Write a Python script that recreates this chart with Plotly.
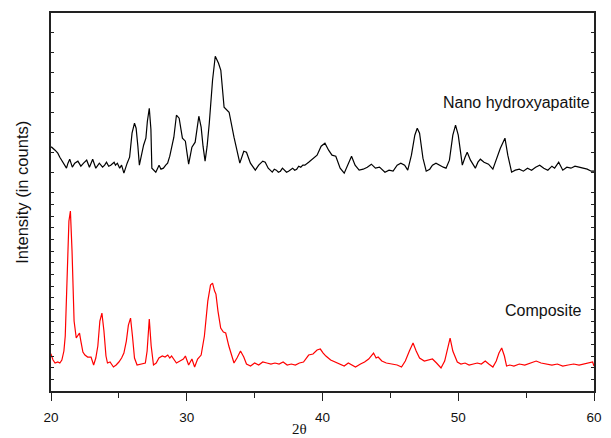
import plotly.graph_objects as go

# ---- data (2theta in degrees, intensity in arbitrary counts) ----
hap_2theta = [19.95, 20.05, 20.3, 20.5, 20.65, 20.78, 20.95, 21.14, 21.25, 21.38, 21.57, 21.75, 21.98,
              22.2, 22.4, 22.63, 22.83, 22.95, 23.07, 23.3, 23.45, 23.56, 23.8, 23.95, 24.09, 24.25,
              24.4, 24.65, 24.75, 24.89, 25.06, 25.2, 25.37, 25.5, 25.61, 25.79, 25.97, 26.15, 26.27,
              26.4, 26.51, 26.82, 26.99, 27.1, 27.24, 27.36, 27.43, 27.72, 27.96, 28.1, 28.28, 28.45,
              28.59, 28.75, 28.88, 29.05, 29.24, 29.44, 29.68, 29.9, 30.0, 30.14, 30.38, 30.62, 30.89,
              31.06, 31.2, 31.35, 31.5, 31.66, 31.9, 32.1, 32.34, 32.51, 32.75, 33.12, 33.48, 33.91,
              34.2, 34.4, 34.69, 35.05, 35.3, 35.6, 35.78, 36.0,
              36.15, 36.3, 36.45, 36.6, 36.75, 36.9, 37.05, 37.2, 37.35, 37.5, 37.65, 37.8, 37.95,
              38.1, 38.25, 38.4, 38.55, 38.7, 38.98, 39.3, 39.6, 39.9, 40.18, 40.45, 40.7, 40.98,
              41.3, 41.6, 41.9, 42.14, 42.4, 42.7, 43.0, 43.3, 43.6, 43.9, 44.2, 44.4, 44.6, 44.9,
              45.2, 45.5, 45.77, 46.05, 46.28, 46.55, 46.8, 46.98, 47.15, 47.4, 47.64, 47.9, 48.1,
              48.36, 48.7, 48.9, 49.1, 49.35, 49.6, 49.8, 50.0, 50.3, 50.5, 50.66, 50.9, 51.26, 51.45,
              51.63, 51.9, 52.23, 52.55, 52.8, 53.1, 53.44, 53.65, 53.93, 54.2, 54.5, 54.8, 55.1,
              55.4, 55.7, 56.0, 56.3, 56.6, 56.9, 57.1, 57.4, 57.7, 58.0, 58.3, 58.6, 58.9, 59.2,
              59.5, 59.8, 60.0]
hap_counts = [244, 244, 241, 238, 234, 231, 228, 223, 228, 232, 224, 228, 230,
              225, 228, 231, 224, 228, 232, 223, 226, 228, 224, 226, 229, 225,
              226, 229, 226, 228, 223, 226, 218, 224, 228, 234, 258, 268, 263,
              245, 226, 246, 253, 270, 283, 262, 223, 219, 226, 222, 223, 226,
              228, 235, 244, 254, 276, 273, 253, 250, 240, 227, 244, 249, 275,
              264, 245, 230, 245, 268, 311, 335, 328, 321, 284, 279, 254, 228,
              240, 239, 228, 221, 226, 230, 229, 223,
              221, 219, 222, 221, 219, 220, 223, 221, 219, 220, 222, 223, 221,
              222, 225, 224, 226, 226, 229, 233, 236, 245, 248, 241, 236, 235,
              223, 218, 228, 235, 226, 221, 222, 224, 227, 223, 224, 221, 219, 221,
              220, 226, 228, 226, 221, 236, 256, 263, 258, 233, 220, 222, 226,
              228, 225, 224, 223, 231, 256, 266, 256, 226, 234, 239, 231, 223, 229,
              232, 229, 227, 222, 231, 243, 253, 236, 219, 221, 222, 220, 223,
              221, 224, 226, 223, 221, 225, 223, 229, 221, 224, 223, 225, 224, 223,
              222, 220, 220]

comp_2theta = [19.95, 20.0, 20.15, 20.3, 20.5, 20.65, 20.8, 20.95, 21.05, 21.2, 21.32, 21.43, 21.55,
               21.7, 21.86, 22.0, 22.1, 22.2, 22.35, 22.5, 22.7, 22.95, 23.14, 23.3, 23.45, 23.6,
               23.75, 23.9, 24.05, 24.16, 24.35, 24.6, 24.8, 25.0, 25.2, 25.37, 25.55, 25.7, 25.86,
               26.0, 26.15, 26.34, 26.6, 26.85, 26.95, 27.08, 27.24, 27.38, 27.55, 27.75, 27.95,
               28.2, 28.4, 28.6, 28.75, 28.88, 29.05, 29.24, 29.5, 29.75, 29.9, 30.02, 30.14, 30.38,
               30.58, 30.8, 31.06, 31.3, 31.55, 31.75, 31.9, 32.05, 32.15, 32.3, 32.5, 32.7, 32.87,
               33.1, 33.3, 33.48, 33.7, 33.96, 34.2, 34.4, 34.7, 35.0, 35.3, 35.6, 35.9, 36.2, 36.5,
               36.8, 37.1, 37.4, 37.7, 38.0, 38.3, 38.6, 38.98, 39.3, 39.6, 39.84, 40.05, 40.25,
               40.6, 40.98, 41.3, 41.6, 41.9, 42.2, 42.43, 42.8, 43.1, 43.4, 43.76, 43.95, 44.1,
               44.37, 44.7, 45.1, 45.5, 45.82, 46.1, 46.4, 46.67, 46.9, 47.15, 47.5, 47.8, 48.1,
               48.4, 48.73, 49.0, 49.2, 49.4, 49.6, 49.93, 50.2, 50.5, 50.8, 51.1, 51.4, 51.7, 51.99,
               52.25, 52.55, 52.8, 53.0, 53.2, 53.4, 53.56, 53.8, 54.1, 54.5, 54.9, 55.3, 55.74,
               56.1, 56.5, 56.9, 57.3, 57.7, 58.1, 58.5, 58.9, 59.3, 59.7, 59.9, 60.0]
comp_counts = [37, 37, 31, 28, 29, 28, 31, 40, 55, 110, 170, 180, 140,
               70, 53, 56, 58, 50, 39, 36, 34, 34, 26, 33, 45, 70,
               78, 60, 35, 28, 29, 24, 26, 29, 33, 38, 50, 66, 73,
               55, 33, 26, 27, 28, 28, 40, 72, 45, 26, 28, 33,
               35, 34, 36, 33, 35, 32, 28, 30, 32, 35, 30, 26, 32,
               24, 32, 36, 55, 90, 106, 108, 100, 97, 80, 63, 59, 58,
               45, 35, 28, 33, 40, 34, 27, 25, 28, 26, 29, 28, 27, 28,
               27, 29, 26, 27, 26, 28, 29, 36, 37, 41, 42, 38, 35,
               31, 29, 27, 25, 28, 26, 24, 27, 29, 32, 38, 33, 34,
               30, 28, 27, 26, 24, 30, 40, 48, 40, 33, 30, 31, 32,
               28, 23, 30, 42, 53, 40, 29, 27, 28, 26, 27, 28, 27, 30,
               27, 24, 30, 38, 43, 35, 25, 26, 25, 27, 26, 28, 30,
               28, 27, 26, 27, 25, 26, 27, 26, 27, 28, 29, 25]

x_ticks = [20, 30, 40, 50, 60]
x_minor = [25, 35, 45, 55]
x_top_ticks = [20, 25, 30, 35, 40, 45, 50, 55, 60]
y_ticks_lower = [0, 11.7, 23.3, 35, 46.7, 58.3, 70, 81.7, 93.3, 105, 116.7, 128.3, 140, 151.7,
                 163.3, 175, 186.7]
y_ticks_upper = [198.3, 218.3, 238.3, 258.3, 278.3, 298.3, 318.3, 338.3, 358.3, 378.3]

label_hap = "Nano hydroxyapatite"
label_comp = "Composite"

SANS = "Arial, Liberation Sans, Helvetica, sans-serif"
SERIF = "Times New Roman, Liberation Serif, serif"
AX = "#222222"

fig = go.Figure()
fig.add_trace(go.Scatter(x=hap_2theta, y=hap_counts, mode="lines", name=label_hap,
                         line=dict(color="#000000", width=1.2), showlegend=False))
fig.add_trace(go.Scatter(x=comp_2theta, y=comp_counts, mode="lines", name=label_comp,
                         line=dict(color="#ff0000", width=1.2), showlegend=False))

fig.update_layout(
    width=611, height=438,
    margin=dict(l=51, r=9, t=13, b=47),
    paper_bgcolor="white", plot_bgcolor="white",
    xaxis=dict(range=[20, 60], tickmode="array", tickvals=x_ticks,
               ticks="outside", ticklen=8, tickwidth=1.3, tickcolor=AX,
               minor=dict(tickvals=x_minor, ticks="outside", ticklen=5, tickwidth=1.3, tickcolor=AX),
               showline=True, linecolor=AX, linewidth=1.5, mirror=True,
               showgrid=False, zeroline=False,
               tickfont=dict(family=SANS, size=13.5, color="#111"),
               ticklabelstandoff=5),
    xaxis2=dict(range=[20, 60], overlaying="x", side="top", anchor="y",
                tickmode="array", tickvals=x_top_ticks, ticks="inside", ticklen=4,
                tickwidth=1.3, tickcolor=AX, showticklabels=False,
                showline=False, showgrid=False, zeroline=False),
    yaxis=dict(range=[0, 378.3], tickmode="array", tickvals=y_ticks_lower + y_ticks_upper,
               ticks="inside", ticklen=3, tickwidth=1, tickcolor=AX, showticklabels=False,
               showline=True, linecolor=AX, linewidth=1.5, mirror="ticks",
               showgrid=False, zeroline=False),
    annotations=[
        dict(text=label_hap, xref="paper", yref="paper", x=0.997, y=0.763,
             xanchor="right", yanchor="middle", showarrow=False,
             font=dict(family=SANS, size=16, color="#111")),
        dict(text=label_comp, xref="paper", yref="paper", x=0.981, y=0.2124,
             xanchor="right", yanchor="middle", showarrow=False,
             font=dict(family=SANS, size=16, color="#111")),
        dict(text="Intensity (in counts)", xref="paper", yref="paper", x=-0.054, y=0.526,
             xanchor="center", yanchor="middle", textangle=-90, showarrow=False,
             font=dict(family=SANS, size=16.5, color="#111")),
        dict(text="2θ", xref="paper", yref="paper", x=0.457, y=-0.074,
             xanchor="center", yanchor="top", showarrow=False,
             font=dict(family=SERIF, size=15, color="#111")),
    ],
)

fig.write_html("out.html", config={"displayModeBar": False},
               post_script="document.body.style.margin='0';document.body.style.overflow='hidden';")
